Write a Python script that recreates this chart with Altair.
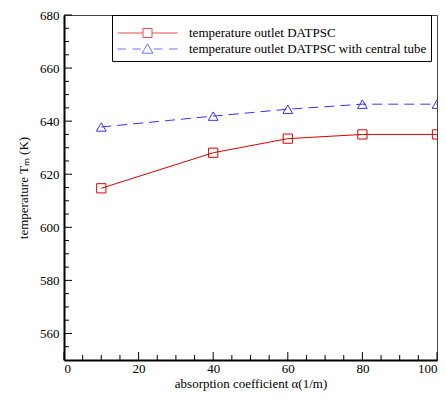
import altair as alt
import pandas as pd

# ---- data ----
alpha = [10, 40, 60, 80, 100]
t_datpsc = [614.7, 628.1, 633.4, 635.0, 635.0]
t_central = [637.8, 641.9, 644.5, 646.4, 646.4]
series_names = ["temperature outlet DATPSC",
                "temperature outlet DATPSC with central tube"]

y_major = [560, 580, 600, 620, 640, 660, 680]
y_minor = [555, 565, 570, 575, 585, 590, 595, 605, 610, 615, 625, 630, 635,
           645, 650, 655, 665, 670, 675]
x_major = [0, 20, 40, 60, 80, 100]
x_minor = [5, 10, 15, 25, 30, 35, 45, 50, 55, 65, 70, 75, 85, 90, 95]

RED = "#e00000"
BLUE = "#3333ff"
FONT = "'Liberation Serif', 'Times New Roman', serif"
W, H = 373, 345

df = pd.DataFrame({
    "alpha": alpha * 2,
    "T": t_datpsc + t_central,
    "series": [series_names[0]] * len(alpha) + [series_names[1]] * len(alpha),
})

xscale = alt.Scale(domain=[0, 100], nice=False, zero=False)
yscale = alt.Scale(domain=[550, 680], nice=False, zero=False)

xaxis = alt.Axis(values=x_major, format="d", ticks=False, grid=False,
                 domainWidth=2, domainColor="black",
                 labelFont=FONT, labelFontSize=13, labelColor="black",
                 labelPadding=2, titleFont=FONT, titleFontSize=13,
                 titleFontWeight="normal", titleColor="black", titlePadding=2)
yaxis = alt.Axis(values=y_major, format="d", ticks=False, grid=False,
                 domainWidth=2, domainColor="black",
                 labelFont=FONT, labelFontSize=13, labelColor="black",
                 labelPadding=5, titleFont=FONT, titleFontSize=13,
                 titleFontWeight="normal", titleColor="black", titlePadding=9)

XT = "absorption coefficient \u03b1(1/m)"
YT = "temperature T\u2098 (K)"


def X(field):
    return alt.X(field, type="quantitative", scale=xscale, axis=xaxis, title=XT)


def Y(field):
    return alt.Y(field, type="quantitative", scale=yscale, axis=yaxis, title=YT)


base = alt.Chart(df)

red_line = base.transform_filter(alt.datum.series == series_names[0]).mark_line(
    color=RED, strokeWidth=1).encode(x=X("alpha"), y=Y("T"))
blue_line = base.transform_filter(alt.datum.series == series_names[1]).mark_line(
    color=BLUE, strokeWidth=1, strokeDash=[10, 6]).encode(x=X("alpha"), y=Y("T"))
red_pts = base.transform_filter(alt.datum.series == series_names[0]).mark_point(
    shape="square", size=85, filled=False, color=RED, strokeWidth=1,
    opacity=1).encode(x=X("alpha"), y=Y("T"))
blue_pts = base.transform_filter(alt.datum.series == series_names[1]).mark_point(
    shape="triangle-up", size=95, filled=False, color=BLUE, strokeWidth=1,
    opacity=1).encode(x=X("alpha"), y=Y("T"))

# legend-only layer (no rows drawn), symbols = line sample + marker
sym_red = "M-1,0H-0.15M0.15,0H1M-0.15,-0.15H0.15V0.15H-0.15Z"
sym_blue = ("M-1,0H-0.72M-0.5,0H-0.22M0.22,0H0.5M0.72,0H1"
            "M0,-0.17L0.18,0.14L-0.18,0.14Z")
legend_layer = base.transform_filter("datum.alpha < 0").mark_point(
    filled=False, strokeWidth=1).encode(
    x=X("alpha"), y=Y("T"),
    color=alt.Color("series:N",
                    scale=alt.Scale(domain=series_names, range=[RED, BLUE]),
                    legend=alt.Legend(title=" ")),
    shape=alt.Shape("series:N",
                    scale=alt.Scale(domain=series_names, range=[sym_red, sym_blue]),
                    legend=alt.Legend(title=" ")),
)

# inner tick marks
ytick_major = alt.Chart(pd.DataFrame({"T": y_major})).mark_rule(
    color="black", strokeWidth=1).encode(y=Y("T"), x=alt.value(0), x2=alt.value(8))
ytick_minor = alt.Chart(pd.DataFrame({"T": y_minor})).mark_rule(
    color="black", strokeWidth=1).encode(y=Y("T"), x=alt.value(0), x2=alt.value(5))
xtick_major = alt.Chart(pd.DataFrame({"alpha": x_major})).mark_rule(
    color="black", strokeWidth=1).encode(x=X("alpha"), y=alt.value(H), y2=alt.value(H - 8))
xtick_minor = alt.Chart(pd.DataFrame({"alpha": x_minor})).mark_rule(
    color="black", strokeWidth=1).encode(x=X("alpha"), y=alt.value(H), y2=alt.value(H - 5))

chart = alt.layer(
    ytick_major, ytick_minor, xtick_major, xtick_minor,
    red_line, blue_line, red_pts, blue_pts, legend_layer,
).properties(
    width=W, height=H,
    autosize=alt.AutoSizeParams(type="none"),
    padding={"left": 56, "top": 7, "right": 1, "bottom": 33},
).configure_view(
    stroke="#444", strokeWidth=1,
).configure_legend(
    orient="none", legendX=48, legendY=0,
    strokeColor="black", strokeWidth=1, fillColor="white", cornerRadius=0,
    padding=4, rowPadding=0, clipHeight=16,
    titleFontSize=2, titlePadding=4,
    symbolSize=3600, symbolStrokeWidth=1, symbolOffset=1, labelOffset=11,
    labelFont=FONT, labelFontSize=13, labelColor="black", labelLimit=400,
)

chart.save("out.html", embed_options={"renderer": "svg", "actions": False})
